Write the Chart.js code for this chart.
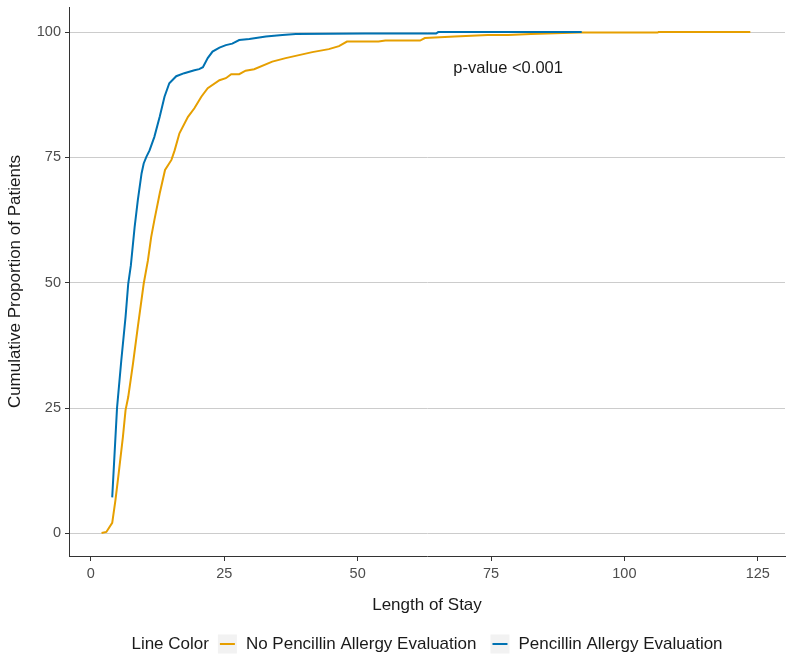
<!DOCTYPE html>
<html>
<head>
<meta charset="utf-8">
<script src="https://cdn.jsdelivr.net/npm/chart.js@4.4.0/dist/chart.umd.min.js"></script>
<style>
  html, body { margin: 0; padding: 0; background: #fff; }
  #wrap { width: 792px; height: 659px; position: relative; }
</style>
</head>
<body>
<div id="wrap"><canvas id="chart"></canvas></div>
<script>
// cumulative curves (length of stay in days, percent of patients)
const evalDays = [4, 4.9, 5.7, 6.5, 7, 7.5, 8.2, 8.8, 9.5, 9.9, 10.4, 11, 11.9, 12.9, 13.8, 14.7, 16, 17.5, 19.4, 20.3,
  21, 21.9, 22.8, 24.1, 25.3, 26.5, 27.8, 29.7, 32.8, 35.9, 38.4, 51.4, 64.7, 65.1, 92];
const evalPct = [7.2, 25, 34.5, 43.2, 49.8, 53.5, 61.1, 66.5, 71.8, 73.8, 75.1, 76.4, 79.1, 83.1, 87.1, 89.8, 91.2, 91.8, 92.4, 92.6,
  93, 94.8, 96.1, 96.9, 97.4, 97.7, 98.4, 98.6, 99.1, 99.4, 99.6, 99.7, 99.7, 100, 100];

const noEvalDays = [2, 2.9, 4, 4.6, 5.2, 6, 6.5, 7, 7.9, 8.8, 9.9, 10.7, 11.3, 11.9, 12.9, 13.9, 15.1, 15.7, 16.6, 18.2,
  19.4, 20.7, 21.9, 24.1, 25.3, 26.3, 27.8, 29, 30.6, 34, 36.5, 39, 41.5, 44.6, 46.5, 48, 53.9, 55.2, 61.7, 62.6,
  68.2, 74.4, 78.2, 82.5, 91.5, 106.2, 106.4, 123.6];
const noEvalPct = [0.1, 0.3, 2.1, 6.6, 11.9, 19.2, 24.6, 27.2, 33.9, 41.2, 49.8, 54.5, 59.1, 62.5, 67.8, 72.5, 74.5, 76.4, 79.8, 83.1,
  84.8, 87.1, 88.8, 90.4, 90.8, 91.6, 91.6, 92.3, 92.6, 94.1, 94.8, 95.4, 96.0, 96.6, 97.2, 98.1, 98.1, 98.3, 98.3, 98.8,
  99.1, 99.4, 99.4, 99.6, 99.9, 99.9, 100, 100];

const xTicks = [0, 25, 50, 75, 100, 125];
const yTicks = [0, 25, 50, 75, 100];
const seriesNames = ['No Pencillin Allergy Evaluation', 'Pencillin Allergy Evaluation'];
const seriesColors = ['#E69F00', '#0072B2'];

const FONT = '"Liberation Sans", Arial, sans-serif';

const toPoints = (xs, ys) => xs.map((x, i) => ({ x: x, y: ys[i] }));

// p-value note, placed in data coordinates
const annotate = {
  id: 'annotate',
  afterDatasetsDraw(chart) {
    const { ctx, scales } = chart;
    ctx.save();
    ctx.font = '16.5px ' + FONT;
    ctx.fillStyle = '#1a1a1a';
    ctx.textAlign = 'center';
    ctx.textBaseline = 'middle';
    ctx.fillText('p-value <0.001', scales.x.getPixelForValue(78.2), scales.y.getPixelForValue(92.8));
    ctx.restore();
  }
};

// ggplot-like legend: title on the left, keys inline, centred under the panel
const inlineLegend = {
  id: 'inlineLegend',
  afterDraw(chart) {
    const { ctx, chartArea } = chart;
    ctx.save();
    ctx.font = '17px ' + FONT;
    ctx.textBaseline = 'middle';
    const y = 644;
    const key = 19, gapAfterTitle = 9, gapKeyText = 9, gapItems = 14;
    const title = 'Line Color';
    let total = ctx.measureText(title).width + gapAfterTitle;
    seriesNames.forEach((n, i) => {
      total += key + gapKeyText + ctx.measureText(n).width + (i < seriesNames.length - 1 ? gapItems : 0);
    });
    let x = (chartArea.left + chartArea.right) / 2 - total / 2;
    ctx.fillStyle = '#1a1a1a';
    ctx.fillText(title, x, y);
    x += ctx.measureText(title).width + gapAfterTitle;
    seriesNames.forEach((n, i) => {
      ctx.fillStyle = '#f2f2f2';
      ctx.fillRect(x, y - key / 2, key, key);
      ctx.strokeStyle = seriesColors[i];
      ctx.lineWidth = 2;
      ctx.beginPath();
      ctx.moveTo(x + 2, y);
      ctx.lineTo(x + key - 2, y);
      ctx.stroke();
      x += key + gapKeyText;
      ctx.fillStyle = '#1a1a1a';
      ctx.fillText(n, x, y);
      x += ctx.measureText(n).width + gapItems;
    });
    ctx.restore();
  }
};

new Chart(document.getElementById('chart'), {
  type: 'scatter',
  data: {
    datasets: [
      {
        label: seriesNames[0],
        data: toPoints(noEvalDays, noEvalPct),
        borderColor: seriesColors[0],
        backgroundColor: seriesColors[0],
        showLine: true,
        borderWidth: 2,
        pointRadius: 0,
        tension: 0,
        order: 1
      },
      {
        label: seriesNames[1],
        data: toPoints(evalDays, evalPct),
        borderColor: seriesColors[1],
        backgroundColor: seriesColors[1],
        showLine: true,
        borderWidth: 2,
        pointRadius: 0,
        tension: 0,
        order: 0
      }
    ]
  },
  options: {
    responsive: true,
    maintainAspectRatio: false,
    animation: false,
    layout: { padding: { top: 7, right: 7, bottom: 39, left: 0 } },
    plugins: {
      legend: { display: false },
      tooltip: { enabled: false }
    },
    scales: {
      x: {
        type: 'linear',
        min: -4.1,
        max: 130.1,
        afterBuildTicks: s => { s.ticks = xTicks.map(v => ({ value: v })); },
        afterFit: s => { s.height = 64; s.paddingLeft = 0; s.paddingRight = 0; },
        grid: { drawOnChartArea: false, tickLength: 5, tickColor: '#333', lineWidth: 1 },
        border: { color: '#333', width: 1 },
        ticks: { font: { family: FONT, size: 14.5 }, color: '#4d4d4d', padding: 4, maxRotation: 0 },
        title: { display: true, text: 'Length of Stay', font: { family: FONT, size: 17 }, color: '#1a1a1a', padding: { top: 0, bottom: 4 } }
      },
      y: {
        type: 'linear',
        min: -4.5,
        max: 105,
        afterBuildTicks: s => { s.ticks = yTicks.map(v => ({ value: v })); },
        afterFit: s => { s.width = 69; s.paddingTop = 0; s.paddingBottom = 0; },
        grid: { color: '#cccccc', lineWidth: 1, tickLength: 4, tickColor: '#333' },
        border: { color: '#333', width: 1 },
        ticks: { font: { family: FONT, size: 14.5 }, color: '#4d4d4d', padding: 4 },
        title: { display: true, text: 'Cumulative Proportion of Patients', font: { family: FONT, size: 17 }, color: '#1a1a1a', padding: { top: 5, bottom: 0 } }
      }
    }
  },
  plugins: [annotate, inlineLegend]
});
</script>
</body>
</html>
